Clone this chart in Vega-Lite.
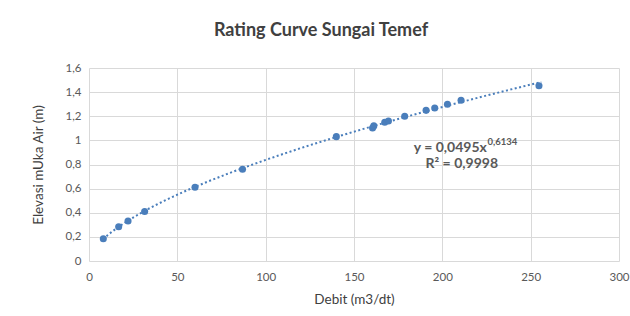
{
  "$schema": "https://vega.github.io/schema/vega-lite/v6.json",
  "width": 530,
  "height": 193,
  "autosize": {"type": "none"},
  "padding": {"left": 89, "top": 68, "right": 11, "bottom": 55},
  "background": "white",
  "title": {
    "text": "Rating Curve Sungai Temef",
    "font": "Lato",
    "fontSize": 18,
    "fontWeight": "bold",
    "color": "#404040",
    "dx": -33,
    "offset": 22,
    "anchor": "middle"
  },
  "datasets": {
    "obs": [
      {"debit": 8.1, "elevasi": 0.185},
      {"debit": 16.8, "elevasi": 0.284},
      {"debit": 22.1, "elevasi": 0.331},
      {"debit": 31.5, "elevasi": 0.411},
      {"debit": 60.0, "elevasi": 0.612},
      {"debit": 86.9, "elevasi": 0.761},
      {"debit": 140.0, "elevasi": 1.031},
      {"debit": 160.5, "elevasi": 1.103},
      {"debit": 161.2, "elevasi": 1.12},
      {"debit": 167.4, "elevasi": 1.15},
      {"debit": 169.5, "elevasi": 1.161},
      {"debit": 178.7, "elevasi": 1.2},
      {"debit": 190.8, "elevasi": 1.249},
      {"debit": 195.7, "elevasi": 1.269},
      {"debit": 202.9, "elevasi": 1.299},
      {"debit": 210.6, "elevasi": 1.332},
      {"debit": 254.7, "elevasi": 1.453}
    ],
    "eq": [
      {"debit": 225.2, "elevasi": 0.907, "label": "y = 0,0495x"}
    ],
    "r2": [
      {"debit": 211, "elevasi": 0.767, "label": "R² = 0,9998"}
    ],
    "sup": [
      {"debit": 225.6, "elevasi": 0.958, "label": "0,6134"}
    ]
  },
  "encoding": {
    "x": {
      "field": "debit",
      "type": "quantitative",
      "scale": {"domain": [0, 300], "nice": false},
      "axis": {"values": [0, 50, 100, 150, 200, 250, 300], "title": "Debit (m3/dt)", "labelFlush": false}
    },
    "y": {
      "field": "elevasi",
      "type": "quantitative",
      "scale": {"domain": [0, 1.6], "nice": false},
      "axis": {
        "values": [0, 0.2, 0.4, 0.6, 0.8, 1, 1.2, 1.4, 1.6],
        "format": "~g",
        "labelExpr": "replace(datum.label, '.', ',')",
        "title": "Elevasi mUka Air (m)"
      }
    }
  },
  "layer": [
    {
      "data": {"name": "obs"},
      "transform": [
        {"regression": "elevasi", "on": "debit", "method": "pow", "extent": [8, 256]}
      ],
      "mark": {"type": "line", "color": "#4a7ebb", "strokeWidth": 2, "strokeDash": [2, 2.5]}
    },
    {
      "data": {"name": "obs"},
      "mark": {"type": "circle", "size": 50, "opacity": 1, "color": "#4a7ebb"}
    },
    {
      "data": {"name": "eq"},
      "mark": {"type": "text", "font": "Lato", "fontSize": 14, "fontWeight": "bold", "color": "#595959", "baseline": "alphabetic", "align": "right"},
      "encoding": {"text": {"field": "label"}}
    },
    {
      "data": {"name": "r2"},
      "mark": {"type": "text", "font": "Lato", "fontSize": 14, "fontWeight": "bold", "color": "#595959", "baseline": "alphabetic", "align": "center"},
      "encoding": {"text": {"field": "label"}}
    },
    {
      "data": {"name": "sup"},
      "mark": {"type": "text", "font": "Lato", "fontSize": 9.5, "fontWeight": "bold", "color": "#595959", "align": "left", "baseline": "alphabetic"},
      "encoding": {"text": {"field": "label"}}
    }
  ],
  "config": {
    "view": {"stroke": null},
    "axis": {
      "domain": false,
      "ticks": false,
      "grid": true,
      "gridColor": "#d9d9d9",
      "gridWidth": 1,
      "labelFont": "Lato",
      "labelFontSize": 11.5,
      "labelColor": "#595959",
      "titleFont": "Lato",
      "titleFontSize": 13.5,
      "titleFontWeight": "normal",
      "titleColor": "#404040"
    },
    "axisX": {"labelPadding": 10, "titlePadding": 10},
    "axisY": {"labelPadding": 8, "titlePadding": 20}
  }
}
